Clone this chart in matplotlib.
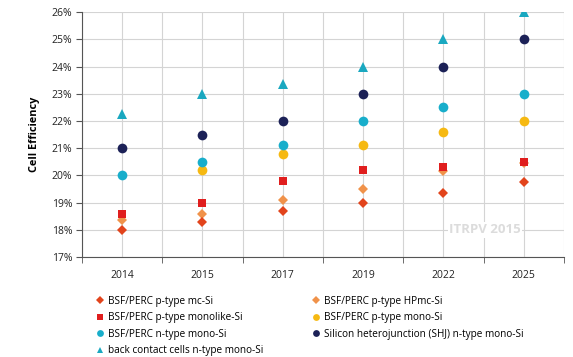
import matplotlib
matplotlib.use("Agg")
import matplotlib.pyplot as plt
import numpy as np

plt.rcParams['font.family'] = ['Open Sans', 'DejaVu Sans']

years = ["2014", "2015", "2017", "2019", "2022", "2025"]
y_ticks = [17, 18, 19, 20, 21, 22, 23, 24, 25, 26]

mc_si = [18.0, 18.3, 18.7, 19.0, 19.35, 19.75]
hpmc_si = [18.35, 18.6, 19.1, 19.5, 20.15, 20.45]
monolike_si = [18.6, 19.0, 19.8, 20.2, 20.3, 20.5]
p_mono = [np.nan, 20.2, 20.8, 21.1, 21.6, 22.0]
n_mono = [20.0, 20.5, 21.1, 22.0, 22.5, 23.0]
shj = [21.0, 21.5, 22.0, 23.0, 24.0, 25.0]
back_contact = [22.25, 23.0, 23.35, 24.0, 25.0, 26.0]

labels = ["BSF/PERC p-type mc-Si", "BSF/PERC p-type HPmc-Si",
          "BSF/PERC p-type monolike-Si", "BSF/PERC p-type mono-Si",
          "BSF/PERC n-type mono-Si", "Silicon heterojunction (SHJ) n-type mono-Si",
          "back contact cells n-type mono-Si"]

fig = plt.figure(figsize=(5.73, 3.57), dpi=100)
ax = fig.add_axes([0.143, 0.280, 0.841, 0.686])

x = np.arange(len(years))
series = [
    (hpmc_si, 'D', '#F0924A', 5.6, labels[1]),
    (mc_si, 'D', '#E2441C', 5.6, labels[0]),
    (monolike_si, 's', '#E01E1E', 6.3, labels[2]),
    (p_mono, 'o', '#F6B912', 7.0, labels[3]),
    (n_mono, 'o', '#18AECB', 7.0, labels[4]),
    (shj, 'o', '#1C2157', 7.0, labels[5]),
    (back_contact, '^', '#1AA8C0', 7.0, labels[6]),
]
handles = {}
for vals, m, c, s, lab in series:
    h = ax.plot(x, vals, linestyle='none', marker=m, color=c, markersize=s,
                markeredgewidth=0, label=lab, zorder=3)[0]
    handles[lab] = h

ax.set_xlim(-0.5, 5.5)
ax.set_ylim(17, 26)
ax.set_yticks(y_ticks)
ax.set_yticklabels([f"{v}%" for v in y_ticks], fontsize=7.5, color='#222222')
ax.set_xticks(x)
ax.set_xticklabels(years, fontsize=7.5, color='#222222')
ax.set_xticks(np.arange(-0.5, 6.0, 1.0), minor=True)
ax.tick_params(axis='x', which='major', length=0, pad=9)
ax.tick_params(axis='x', which='minor', length=4, color='#555555', direction='out')
ax.tick_params(axis='y', which='major', length=4, color='#555555', pad=3)
ax.grid(True, which='major', color='#d4d4d4', linewidth=0.8)
ax.grid(True, which='minor', axis='x', color='#d4d4d4', linewidth=0.8)
ax.set_axisbelow(True)
for sp in ['top', 'right']:
    ax.spines[sp].set_visible(False)
for sp in ['left', 'bottom']:
    ax.spines[sp].set_color('#555555')
    ax.spines[sp].set_linewidth(0.8)
ax.set_ylabel("Cell Efficiency", fontsize=7.8, fontweight='bold', labelpad=8)

ax.text(4.52, 18.0, "ITRPV 2015", fontsize=9.5, fontweight='bold', color='#dcdcdc',
        ha='center', va='center', zorder=2,
        bbox=dict(facecolor='white', edgecolor='none', pad=1))

order = [labels[0], labels[2], labels[4], labels[6], labels[1], labels[3], labels[5]]
leg = fig.legend([handles[l] for l in order], order, ncol=2, loc='upper left',
                 bbox_to_anchor=(0.162, 0.183), frameon=False, fontsize=7.2,
                 markerscale=0.7, handlelength=0.6, handletextpad=0.5,
                 columnspacing=5.0, labelspacing=0.55, borderaxespad=0)

fig.savefig("out.png", dpi=100)
